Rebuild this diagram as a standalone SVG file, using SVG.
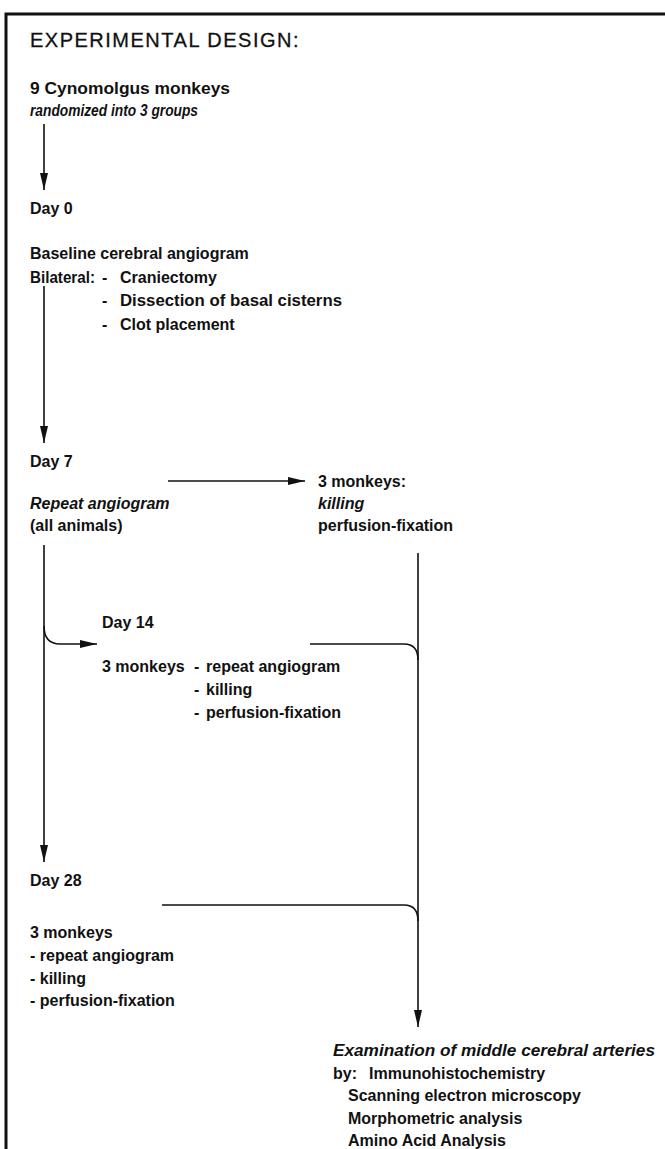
<svg xmlns="http://www.w3.org/2000/svg" width="665" height="1149" viewBox="0 0 665 1149">
<style>
text{font-family:"Liberation Sans",Arial,sans-serif;font-size:16px;font-weight:bold;fill:#111}
.title{font-size:20px;font-weight:normal;letter-spacing:1.5px;stroke:#111;stroke-width:0.3}
.it{font-style:italic}
.ln{fill:none;stroke:#111;stroke-width:1.6}
</style>
<defs>
<marker id="ah" markerUnits="userSpaceOnUse" markerWidth="18" markerHeight="10" refX="17" refY="5" orient="auto">
<path d="M0,1 L17,5 L0,9 z" fill="#111"/>
</marker>
</defs>
<rect width="665" height="1149" fill="#fff"/>
<g id="frame"><path class="ln" style="stroke-width:3" d="M6,1149 V14 H665"/></g>
<text class="title" x="30" y="47">EXPERIMENTAL DESIGN:</text>
<g id="start"><text x="30" y="94" textLength="200" lengthAdjust="spacingAndGlyphs">9 Cynomolgus monkeys</text><text class="it" x="30" y="116" textLength="168" lengthAdjust="spacingAndGlyphs">randomized into 3 groups</text></g>
<g id="day0"><text x="30" y="214">Day 0</text>
<text x="30" y="259">Baseline cerebral angiogram</text>
<text x="30" y="283" textLength="65" lengthAdjust="spacingAndGlyphs">Bilateral:</text>
<text x="102" y="283">-</text><text x="120" y="283">Craniectomy</text>
<text x="102" y="306">-</text><text x="120" y="306" textLength="222" lengthAdjust="spacingAndGlyphs">Dissection of basal cisterns</text>
<text x="102" y="330">-</text><text x="120" y="330">Clot placement</text></g>
<g id="day7"><text x="30" y="467">Day 7</text>
<text class="it" x="30" y="509">Repeat angiogram</text>
<text x="30" y="531">(all animals)</text></g>
<g id="kill7"><text x="318" y="487">3 monkeys:</text>
<text class="it" x="318" y="509">killing</text>
<text x="318" y="531">perfusion-fixation</text></g>
<g id="day14"><text x="102" y="628">Day 14</text>
<text x="102" y="672">3 monkeys</text>
<text x="194" y="672">-</text><text x="206" y="672">repeat angiogram</text>
<text x="194" y="695">-</text><text x="206" y="695">killing</text>
<text x="194" y="718">-</text><text x="206" y="718">perfusion-fixation</text></g>
<g id="day28"><text x="30" y="886">Day 28</text>
<text x="30" y="938">3 monkeys</text>
<text x="30" y="961">- repeat angiogram</text>
<text x="30" y="984">- killing</text>
<text x="30" y="1006">- perfusion-fixation</text></g>
<g id="exam"><text class="it" x="333" y="1056" textLength="322" lengthAdjust="spacingAndGlyphs">Examination of middle cerebral arteries</text>
<text x="333" y="1079">by:</text><text x="369" y="1079">Immunohistochemistry</text>
<text x="348" y="1101">Scanning electron microscopy</text>
<text x="348" y="1124">Morphometric analysis</text>
<text x="348" y="1146">Amino Acid Analysis</text></g>
<g id="connectors">
<path class="ln" d="M44,124 V190" marker-end="url(#ah)"/>
<path class="ln" d="M44,286 V443" marker-end="url(#ah)"/>
<path class="ln" d="M168,481 H305" marker-end="url(#ah)"/>
<path class="ln" d="M44,545 V862" marker-end="url(#ah)"/>
<path class="ln" d="M44,626 Q44,644 60,644 H97" marker-end="url(#ah)"/>
<path class="ln" d="M418,553 V1027" marker-end="url(#ah)"/>
<path class="ln" d="M310,644 H404 Q418,644 418,660"/>
<path class="ln" d="M162,905 H404 Q418,905 418,921"/>
</g>
</svg>
